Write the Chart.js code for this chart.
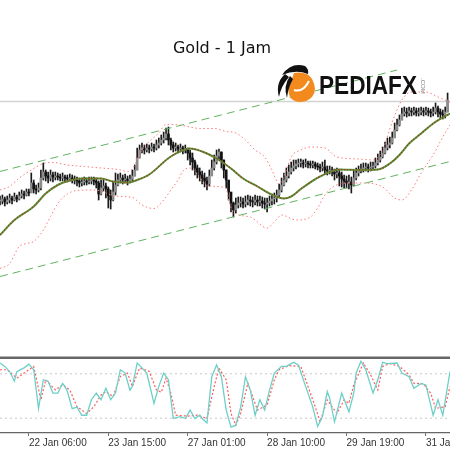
<!DOCTYPE html>
<html>
<head>
<meta charset="utf-8">
<script src="https://cdn.jsdelivr.net/npm/chart.js@4.4.1/dist/chart.umd.min.js"></script>
<style>
  body { margin: 0; background: #fff; }
  #wrap { position: relative; width: 450px; height: 450px; overflow: hidden; background: #fff; }
  canvas { position: absolute; left: 0; }
</style>
</head>
<body>
<div id="wrap">
  <canvas id="main" width="450" height="356" style="top:0"></canvas>
  <canvas id="stoch" width="450" height="94" style="top:356px"></canvas>
</div>
<script>
// =====================================================
// DATA - Gold H1 (bar index 0..186)
// =====================================================

const closes = [
  1579.8,1580.2,1579.6,1580.0,1580.4,1580.0,1580.6,1580.2,1580.8,1581.2,
  1581.0,1581.6,1581.4,1583.4,1582.2,1582.0,1582.4,1584.4,1585.6,1584.8,
  1584.4,1585.0,1584.6,1584.8,1584.6,1584.4,1584.6,1584.4,1584.2,1584.4,
  1584.2,1584.0,1583.8,1583.4,1583.6,1583.8,1583.6,1583.8,1584.0,1583.8,
  1583.4,1581.2,1582.4,1582.8,1582.2,1580.8,1580.0,1581.6,1583.0,1584.0,
  1584.4,1584.0,1584.2,1583.8,1584.2,1584.8,1586.0,1588.4,1590.0,1590.4,
  1590.0,1590.4,1590.2,1590.6,1590.4,1591.0,1591.4,1592.0,1592.4,1593.2,
  1592.0,1591.0,1590.4,1590.6,1590.2,1590.4,1590.0,1590.2,1589.4,1588.4,
  1587.6,1586.4,1585.6,1585.0,1584.4,1583.8,1583.2,1584.8,1586.4,1587.6,
  1588.8,1589.6,1588.0,1586.0,1584.0,1581.6,1579.4,1578.0,1579.0,1579.4,
  1579.6,1579.2,1579.6,1580.0,1579.8,1579.6,1580.0,1579.6,1579.8,1579.4,
  1579.2,1579.4,1579.8,1580.2,1580.4,1581.0,1582.0,1583.0,1584.0,1584.8,
  1585.6,1586.4,1586.8,1587.2,1587.4,1587.4,1587.2,1587.4,1587.2,1587.0,
  1587.2,1586.8,1586.6,1586.4,1586.6,1586.0,1585.8,1586.0,1585.6,1585.2,
  1585.4,1584.8,1584.2,1583.8,1583.4,1583.6,1583.0,1584.4,1585.4,1585.8,
  1586.2,1586.4,1586.6,1586.4,1586.6,1586.8,1587.4,1588.0,1588.6,1589.4,
  1590.4,1591.0,1591.4,1592.4,1594.0,1595.0,1596.0,1597.2,1597.6,1597.4,
  1597.8,1597.6,1597.8,1597.4,1597.6,1597.8,1597.6,1597.8,1597.6,1597.4,
  1597.6,1598.4,1597.6,1597.2,1597.0,1597.6,1600.0
];

const highs = [
  1580.8,1581.0,1580.6,1580.8,1581.2,1580.8,1581.4,1581.0,1581.6,1582.0,
  1581.8,1582.2,1582.2,1585.4,1584.0,1583.0,1583.4,1586.0,1587.4,1586.0,
  1585.6,1586.0,1585.6,1585.6,1585.4,1585.2,1585.4,1585.0,1585.0,1585.2,
  1585.0,1584.8,1584.6,1584.4,1584.4,1584.6,1584.4,1584.6,1584.6,1584.6,
  1584.4,1583.8,1584.0,1584.0,1583.4,1582.6,1582.0,1583.6,1585.4,1585.2,
  1585.4,1585.0,1585.2,1584.8,1585.0,1586.0,1587.0,1590.4,1591.0,1591.4,
  1591.0,1591.2,1591.0,1591.4,1591.2,1592.0,1592.4,1593.0,1593.6,1594.4,
  1594.6,1592.4,1591.6,1591.4,1591.0,1591.2,1590.8,1591.0,1590.4,1590.0,
  1589.4,1588.0,1587.0,1586.4,1585.8,1585.4,1584.6,1586.0,1588.0,1589.0,
  1590.0,1590.2,1589.6,1588.0,1586.0,1583.6,1581.4,1579.6,1580.4,1580.6,
  1580.6,1580.4,1580.8,1581.0,1580.8,1580.6,1581.0,1580.8,1580.8,1580.6,
  1580.4,1580.4,1580.8,1581.2,1581.4,1582.0,1583.2,1584.4,1585.4,1586.4,
  1587.0,1587.6,1588.0,1588.0,1588.2,1588.2,1588.0,1588.2,1587.8,1587.8,
  1587.8,1587.6,1587.4,1587.2,1587.6,1588.0,1586.8,1586.8,1586.6,1586.2,
  1586.4,1586.0,1585.6,1585.0,1584.8,1585.0,1584.6,1586.0,1586.4,1586.8,
  1587.2,1587.4,1587.4,1587.2,1587.6,1587.6,1588.4,1589.2,1589.8,1590.6,
  1591.6,1592.4,1592.6,1593.6,1595.4,1596.2,1597.0,1598.4,1598.6,1598.4,
  1598.6,1598.4,1598.6,1598.4,1598.4,1598.6,1598.4,1598.6,1598.4,1598.2,
  1598.6,1599.4,1598.8,1598.2,1598.0,1598.6,1601.4
];

const lows = [
  1579.0,1579.2,1578.8,1579.2,1579.4,1579.2,1579.8,1579.6,1580.0,1580.4,
  1580.2,1580.8,1580.8,1581.6,1581.4,1581.2,1581.6,1582.0,1584.0,1583.8,
  1583.4,1583.8,1583.6,1584.0,1584.0,1583.8,1583.8,1583.6,1583.6,1583.8,
  1583.4,1583.2,1582.8,1582.6,1582.8,1583.0,1583.0,1583.2,1583.2,1583.0,
  1582.4,1580.0,1581.0,1581.8,1580.4,1578.4,1578.2,1579.8,1581.0,1582.8,
  1583.4,1583.2,1583.4,1583.0,1583.4,1583.8,1584.8,1586.0,1588.4,1589.4,
  1589.2,1589.6,1589.4,1589.8,1589.6,1590.0,1590.4,1591.0,1591.4,1592.0,
  1591.0,1590.0,1589.6,1589.8,1589.4,1589.6,1589.2,1589.4,1588.0,1587.0,
  1586.0,1585.0,1584.4,1583.8,1583.2,1582.6,1582.0,1582.8,1585.0,1586.0,
  1587.2,1588.0,1586.4,1584.4,1582.4,1580.0,1577.6,1576.6,1577.4,1578.4,
  1578.6,1578.4,1578.6,1579.0,1578.8,1578.6,1579.0,1578.8,1578.8,1578.4,
  1578.2,1577.6,1578.8,1579.0,1579.2,1579.6,1580.6,1581.6,1582.8,1583.6,
  1584.4,1585.2,1585.8,1586.2,1586.6,1586.6,1586.4,1586.6,1586.4,1586.4,
  1586.4,1586.2,1586.0,1585.6,1585.8,1585.2,1585.0,1585.2,1584.8,1584.0,
  1584.4,1582.8,1582.6,1582.4,1582.4,1582.2,1581.4,1582.8,1584.0,1584.8,
  1585.4,1585.6,1585.8,1585.6,1585.8,1586.0,1586.4,1587.0,1587.6,1588.4,
  1589.2,1590.0,1590.4,1591.2,1592.8,1593.8,1594.8,1596.0,1596.8,1596.6,
  1596.8,1596.8,1597.0,1596.8,1596.8,1597.0,1596.8,1597.0,1596.8,1596.6,
  1596.8,1597.2,1596.6,1596.4,1596.2,1596.4,1597.6
];

// moving average (bar, price)
const maLine = [
  [0,1573.0],[6,1576.0],[14,1578.7],[19,1581.3],[24,1583.0],[29,1583.9],[35,1584.3],
  [42,1584.3],[47,1583.7],[53,1583.5],[57,1584.0],[62,1585.1],[71,1588.7],[79,1590.3],
  [84,1589.7],[90,1588.3],[96,1586.3],[101,1584.3],[107,1582.7],[112,1581.3],[118,1580.3],
  [121,1580.7],[125,1582.2],[133,1584.7],[141,1586.1],[150,1586.0],[157,1586.1],[162,1587.3],
  [166,1589.0],[170,1591.3],[175,1593.3],[180,1595.3],[184,1596.5],[187,1597.3]
];

// bollinger bands
const bbUpper = [
  [0,1582.0],[4,1582.7],[8,1584.4],[13,1586.0],[18,1587.3],[22,1587.5],[28,1587.0],
  [35,1586.7],[42,1586.4],[49,1586.1],[53,1585.7],[55,1586.2],[57,1588.0],[59,1590.0],
  [62,1591.7],[66,1593.4],[69,1595.1],[72,1595.1],[78,1594.7],[83,1594.3],[89,1594.3],
  [94,1593.7],[98,1593.4],[102,1592.0],[106,1590.0],[110,1588.6],[113,1586.0],[116,1583.2],
  [119,1586.0],[121,1588.6],[125,1590.0],[129,1590.6],[135,1590.4],[140,1588.6],[149,1588.2],
  [155,1588.0],[159,1590.0],[163,1595.6],[167,1600.0],[171,1601.6],[177,1601.6],[182,1600.6],
  [187,1599.6]
];

const bbLower = [
  [0,1566.3],[4,1567.3],[8,1570.7],[11,1571.3],[14,1571.7],[18,1574.0],[21,1576.7],
  [24,1579.3],[28,1581.2],[32,1581.9],[37,1582.0],[42,1581.8],[46,1581.0],[50,1580.7],
  [55,1580.5],[59,1579.0],[64,1578.3],[68,1580.0],[71,1582.0],[74,1584.0],[76,1585.8],
  [79,1586.4],[83,1584.4],[86,1582.8],[94,1582.4],[95,1580.0],[97,1577.6],[104,1576.6],
  [111,1574.4],[114,1575.6],[117,1577.0],[123,1576.0],[129,1576.6],[132,1578.4],[135,1581.0],
  [139,1582.8],[145,1583.4],[152,1583.4],[159,1582.6],[164,1580.4],[167,1580.0],[171,1582.0],
  [175,1585.4],[180,1589.0],[184,1592.6],[187,1595.0]
];

// trend channel
const channelUpper = [[0,1585.7],[165,1606.0]];
const channelLower = [[0,1564.7],[187,1587.7]];

// horizontal level
const levelPrice = 1599.7;

// stochastic
const stochK = [
  [0,94.6],[2,90],[4,83],[6,70],[7,83],[10,88],[12,93],[14,85.5],[16,33],[18,72],
  [20,70],[22,54],[24,54],[26,67],[27,63],[28,56],[30,33],[32,35],[34,24],[36,24],
  [38,45],[40,54],[42,45],[44,60.5],[46,45],[48,54],[50,85.5],[52,81],[54,58],[55,63],
  [57,94.6],[59,88],[61,81],[64,40],[66,63],[68,81],[70,72],[72,19.6],[75,22],[77,19.6],
  [79,31],[81,19.6],[83,24],[84,19.6],[86,13.6],[88,76],[90,92],[92,76],[94,31],[96,8],
  [98,10.5],[100,35],[102,76],[104,58],[106,24],[108,45],[110,31],[112,58],[114,81],[117,90],
  [119,90],[122,95.5],[124,92],[127,63],[130,35],[132,9],[134,22],[136,56],[137,47],[139,15],
  [142,54],[145,28.6],[147,54],[148,81],[150,97],[152,85.5],[155,54],[157,72],[159,95.5],[161,93.7],
  [165,94.6],[167,81],[170,76],[172,60.5],[175,67],[177,65],[180,24],[182,45],[184,24],[187,83]
];

const stochD = [
  [0,85.5],[3,85.5],[7,74.2],[14,90],[17,44.6],[19,71.9],[23,58.2],[26,65],[29,58.2],[32,35.5],
  [36,26.4],[39,35.5],[42,51.4],[44,56],[47,49.2],[50,76.4],[53,81],[55,62.8],[58,87.8],[62,83.3],
  [65,58.2],[67,55],[69,74.2],[71,53.7],[73,24.1],[78,22.8],[82,24.1],[86,19.6],[89,62.8],[91,87.8],
  [94,71.9],[96,26.4],[98,10.5],[100,26.4],[103,67.3],[105,49.2],[107,31],[111,37.8],[114,71.9],[116,85.5],
  [120,91],[125,90],[127,71.9],[131,35.5],[133,15],[136,44.6],[140,26.4],[143,44.6],[145,40],[147,65],
  [151,94.6],[154,78.7],[157,58.2],[159,90],[162,93.7],[166,90],[170,78.7],[172,67.3],[176,66.4],[179,53.7],
  [181,33.2],[185,35.5],[187,62.8]
];

const stochLevels = [80, 20];

// eixo do tempo
const tickBars = [12, 45, 78, 111, 144, 177];
const tickLabels = ["22 Jan 06:00", "23 Jan 15:00", "27 Jan 01:00", "28 Jan 10:00", "29 Jan 19:00", "31 Jan 04:00"];

const titulo = "Gold - 1 Jam";

// =====================================================
// HELPERS
// =====================================================

const BAR_MIN = 0;
const BAR_MAX = 187;

function pts(arr){
    return arr.map(p => ({ x: p[0], y: p[1] }));
}

function linha(data, color, width, dash, order){
    return {
        type: "line",
        data: data,
        borderColor: color,
        borderWidth: width,
        borderDash: dash || [],
        pointRadius: 0,
        fill: false,
        cubicInterpolationMode: "monotone",
        order: order
    };
}

// opens = previous close
const opens = closes.map((c, i) => i === 0 ? c : closes[i - 1]);

// =====================================================
// MAIN CHART
// =====================================================

const logoPlugin = {
    id: "logo",
    afterDraw(chart){
        const ctx = chart.ctx;
        ctx.save();

        // title
        ctx.fillStyle = "#111";
        ctx.font = "16px 'DejaVu Sans'";
        ctx.textAlign = "center";
        ctx.textBaseline = "alphabetic";
        ctx.fillText(titulo, 222, 53);

        // orange badge
        ctx.fillStyle = "#f28a1d";
        ctx.beginPath();
        ctx.moveTo(294, 73);
        ctx.quadraticCurveTo(307, 71, 312, 79);
        ctx.quadraticCurveTo(318, 90, 312, 97);
        ctx.quadraticCurveTo(305, 104, 295, 101);
        ctx.quadraticCurveTo(287, 98, 289, 87);
        ctx.closePath();
        ctx.fill();

        ctx.strokeStyle = "#fff";
        ctx.lineWidth = 2;
        ctx.beginPath();
        ctx.moveTo(294, 90);
        ctx.quadraticCurveTo(303, 93, 309, 81);
        ctx.stroke();

        // black cap + feathers
        ctx.fillStyle = "#111";
        ctx.beginPath();
        ctx.moveTo(282, 75);
        ctx.quadraticCurveTo(291, 62, 305, 66);
        ctx.quadraticCurveTo(309, 69, 308, 74);
        ctx.quadraticCurveTo(296, 69, 282, 75);
        ctx.fill();

        ctx.beginPath();
        ctx.moveTo(285, 74);
        ctx.quadraticCurveTo(275, 83, 279, 97);
        ctx.quadraticCurveTo(281, 86, 289, 77);
        ctx.closePath();
        ctx.fill();

        ctx.beginPath();
        ctx.moveTo(290, 76);
        ctx.quadraticCurveTo(283, 86, 287, 98);
        ctx.quadraticCurveTo(288, 88, 293, 79);
        ctx.closePath();
        ctx.fill();

        // text
        ctx.fillStyle = "#111";
        ctx.font = "bold 25px 'Liberation Sans'";
        ctx.textAlign = "left";
        ctx.fillText("PEDIAFX", 319, 93.5, 98);

        ctx.translate(421, 78);
        ctx.rotate(Math.PI / 2);
        ctx.font = "6px 'Liberation Sans'";
        ctx.fillStyle = "#888";
        ctx.fillText(".COM", 0, 0);

        ctx.restore();
    }
};

new Chart(document.getElementById("main"), {

    type: "line",

    data: {

        datasets: [

            // horizontal level
            linha([{ x: BAR_MIN, y: levelPrice }, { x: BAR_MAX, y: levelPrice }], "#d2d2d2", 1.5, [], 60),

            // wicks
            {
                type: "bar",
                data: closes.map((c, i) => ({ x: i, y: [lows[i], highs[i]] })),
                backgroundColor: "#1a1a1a",
                barThickness: 1,
                grouped: false,
                order: 41
            },

            // bodies
            {
                type: "bar",
                data: closes.map((c, i) => ({ x: i, y: [opens[i], c] })),
                backgroundColor: closes.map((c, i) => c >= opens[i] ? "#8c8c8c" : "#111"),
                barThickness: 2,
                minBarLength: 1,
                grouped: false,
                order: 40
            },

            // bollinger
            linha(pts(bbUpper), "#ff7a7a", 1, [1.5, 2.5], 20),
            linha(pts(bbLower), "#ff7a7a", 1, [1.5, 2.5], 20),

            // moving average (green solid + red dotted)
            linha(pts(maLine), "#4f9e3c", 2, [], 11),
            linha(pts(maLine), "#a83a22", 1.3, [1.5, 1.5], 10),

            // channel
            linha(pts(channelUpper), "#5fb35f", 1, [8, 5], 5),
            linha(pts(channelLower), "#5fb35f", 1, [8, 5], 5)

        ]

    },

    options: {

        responsive: false,
        animation: false,
        devicePixelRatio: 1,

        layout: { padding: 0 },

        plugins: {
            legend: { display: false },
            tooltip: { enabled: false }
        },

        scales: {

            x: {
                type: "linear",
                min: BAR_MIN,
                max: BAR_MAX,
                offset: false,
                display: false
            },

            y: {
                type: "linear",
                min: 1548.8,
                max: 1620,
                display: false
            }

        }

    },

    plugins: [logoPlugin]

});

// =====================================================
// STOCHASTIC PANEL
// =====================================================

const painelPlugin = {
    id: "painel",
    beforeDraw(chart){
        const ctx = chart.ctx;
        ctx.save();
        ctx.fillStyle = "#fff";
        ctx.fillRect(0, 0, chart.width, chart.height);
        ctx.fillStyle = "#b4b4b4";
        ctx.fillRect(0, 0, chart.width, 1);
        ctx.fillStyle = "#666";
        ctx.fillRect(0, 1, chart.width, 2);
        ctx.restore();
    }
};

new Chart(document.getElementById("stoch"), {

    type: "line",

    data: {

        datasets: [

            ...stochLevels.map(v =>
                linha([{ x: BAR_MIN, y: v }, { x: BAR_MAX, y: v }], "#c8c8c8", 1, [2, 3], 30)
            ),

            {
                data: pts(stochD),
                borderColor: "#ff5a5a",
                borderWidth: 1.2,
                borderDash: [2, 2],
                pointRadius: 0,
                tension: 0,
                order: 2
            },

            {
                data: pts(stochK),
                borderColor: "#6dd0c8",
                borderWidth: 1.3,
                pointRadius: 0,
                tension: 0,
                order: 1
            }

        ]

    },

    options: {

        responsive: false,
        animation: false,
        devicePixelRatio: 1,

        layout: { padding: { top: 3, left: 0, right: 0, bottom: 0 } },

        plugins: {
            legend: { display: false },
            tooltip: { enabled: false }
        },

        scales: {

            x: {
                type: "linear",
                min: BAR_MIN,
                max: BAR_MAX,
                offset: false,
                afterBuildTicks: s => { s.ticks = tickBars.map(v => ({ value: v })); },
                afterFit: s => { s.height = 17; s.paddingLeft = 0; s.paddingRight = 0; },
                grid: {
                    drawOnChartArea: false,
                    drawTicks: true,
                    tickLength: 3,
                    color: "#707070"
                },
                border: { display: true, color: "#666", width: 1.2 },
                ticks: {
                    autoSkip: false,
                    maxRotation: 0,
                    minRotation: 0,
                    align: "start",
                    padding: 1,
                    color: "#333",
                    font: { family: "Liberation Sans", size: 10 },
                    callback: (v, i) => tickLabels[i]
                }
            },

            y: {
                type: "linear",
                min: 0,
                max: 100,
                display: false
            }

        }

    },

    plugins: [painelPlugin]

});
</script>
</body>
</html>
